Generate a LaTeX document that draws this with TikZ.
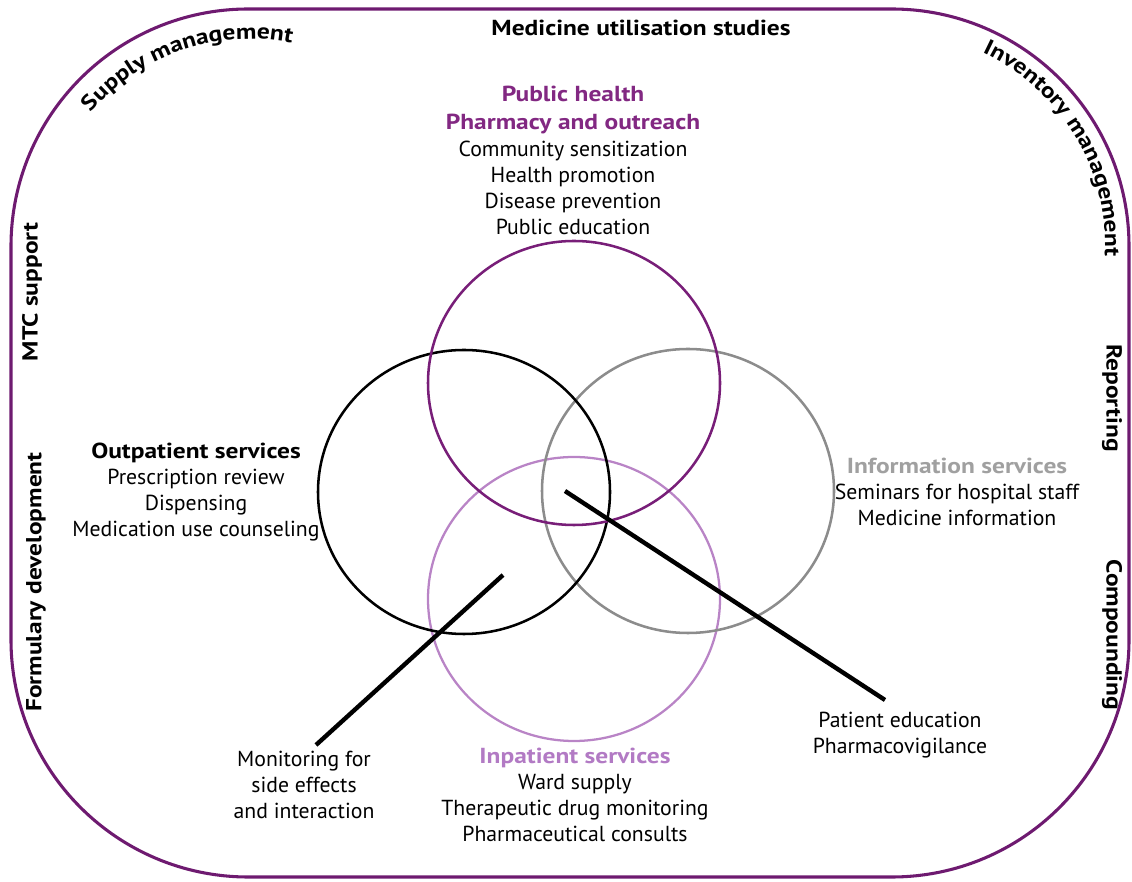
\documentclass[tikz,border=0pt]{standalone}
\usepackage{fontspec}
\setmainfont{PT Sans}
\newfontfamily\widebold{PT Sans Bold}[FakeStretch=1.17]
\usetikzlibrary{shapes.geometric,decorations.text}
\definecolor{bordc}{RGB}{110,26,112}
\definecolor{pubc}{RGB}{120,30,120}
\definecolor{pubt}{RGB}{130,40,130}
\definecolor{inpc}{RGB}{185,132,198}
\definecolor{inpt}{RGB}{178,122,196}
\definecolor{grayc}{RGB}{140,140,140}
\definecolor{infot}{RGB}{160,160,160}
\newcommand{\bodyfs}{\fontsize{16.3pt}{19.5pt}\selectfont}
\newcommand{\hd}{\widebold}
\newcommand{\curvefs}{\fontsize{16.3pt}{19.5pt}\selectfont\widebold}
\tikzset{
  venn/.style={ellipse, draw, line width=1.9pt, minimum width=219pt, minimum height=213pt, inner sep=0pt},
  txt/.style={align=center, font=\bodyfs, inner sep=0pt},
  edge/.style={font=\bodyfs\widebold, inner sep=0pt},
  conn/.style={line width=3.3pt},
}
\begin{document}
\begin{tikzpicture}[x=0.75pt,y=0.75pt]
\useasboundingbox (0,0) rectangle (1132,882);
% border
\draw[bordc, line width=2.3pt, rounded corners=178pt] (11,5) rectangle (1129,873);
% Venn ellipses
\node[venn, draw=inpc, line width=1.7pt] (inp) at (574,283) {};
\node[venn, draw=grayc] (info) at (688,391) {};
\node[venn, draw=black] (out) at (464,390) {};
\node[venn, draw=pubc] (pub) at (574,499) {};
% connectors
\coordinate (c1a) at (503,307);
\coordinate (c1b) at (316,137);
\coordinate (c2a) at (565,391);
\coordinate (c2b) at (885,182);
\draw[conn] (c1a) -- (c1b);
\draw[conn] (c2a) -- (c2b);
% edge labels
\node[edge] (mus) at (641,854) {Medicine utilisation studies};
\node[edge, rotate=90] (mtc) at (32,590) {MTC support};
\node[edge, rotate=90] (form) at (36,300) {Formulary development};
\node[edge, rotate=-90] (rep) at (1112,484) {Reporting};
\node[edge, rotate=-90] (comp) at (1112,247) {Compounding};
\path[decorate, decoration={text along path, text align=center,
  text={|\curvefs|Supply management}}]
  (250,634) ++(155:209) arc[start angle=155, end angle=63, radius=209];
\path[decorate, decoration={text along path, text align=center,
  text={|\curvefs|Inventory management}}]
  (893,637) ++(73:212) arc[start angle=73, end angle=-11, radius=212];
% blocks
\node[txt] (pubtxt) at (573,721.5) {{\hd\color{pubt}Public health}\\[1pt]{\hd\color{pubt}Pharmacy and outreach}\\[1pt]Community sensitization\\Health promotion\\Disease prevention\\Public education};
\node[txt] (outtxt) at (196,389.5) {{\hd Outpatient services}\\Prescription review\\Dispensing\\Medication use counseling};
\node[txt] (infotxt) at (957,390.5) {{\hd\color{infot}Information services}\\Seminars for hospital staff\\Medicine information};
\node[txt] (inptxt) at (575,87.5) {{\hd\color{inpt}Inpatient services}\\Ward supply\\Therapeutic drug monitoring\\Pharmaceutical consults};
\node[txt] (montxt) at (304,97.5) {Monitoring for\\side effects\\and interaction};
\node[txt] (pattxt) at (900,147) {Patient education\\Pharmacovigilance};
\end{tikzpicture}
\end{document}
